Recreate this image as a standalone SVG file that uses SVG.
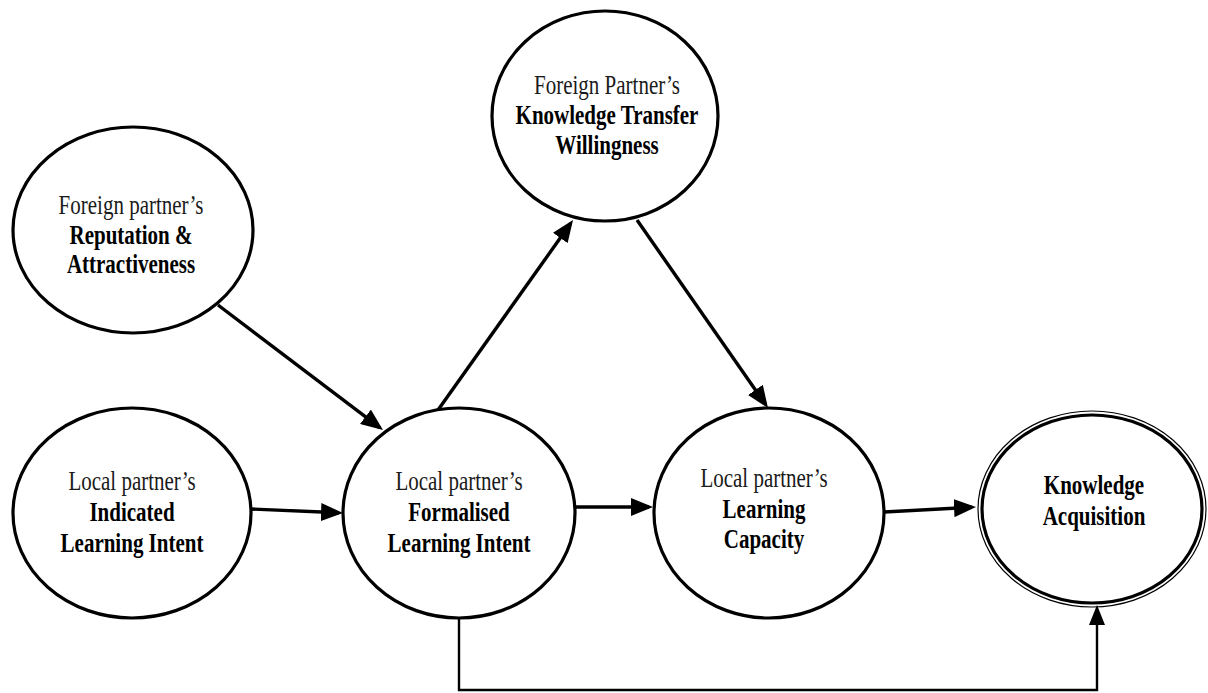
<svg xmlns="http://www.w3.org/2000/svg" width="1208" height="693" viewBox="0 0 1208 693">
<style>
.node{fill:#fff;stroke:#000;stroke-width:3.2}
.thin{fill:none;stroke:#000;stroke-width:1.2}
.t{font-family:"Liberation Serif","Times New Roman",serif;font-size:21px;text-anchor:middle;fill:#1a1a1a}
.b{font-weight:bold;fill:#000}
.c{fill:none;stroke:#000;stroke-width:3.4}
.c2{fill:none;stroke:#000;stroke-width:2.4}
</style>
<defs>
<marker id="ah" viewBox="0 0 22 18" refX="18" refY="9" markerWidth="22" markerHeight="18" markerUnits="userSpaceOnUse" orient="auto">
<path d="M0,0 L22,9 L0,18 z" fill="#000"/>
</marker>
<marker id="ah2" viewBox="0 0 20 16" refX="16" refY="8" markerWidth="20" markerHeight="16" markerUnits="userSpaceOnUse" orient="auto">
<path d="M0,0 L20,8 L0,16 z" fill="#000"/>
</marker>
</defs>
<rect width="1208" height="693" fill="#fff"/>
<g id="connectors">
<line class="c" x1="218" y1="305" x2="379.8" y2="427.6" marker-end="url(#ah)"/>
<line class="c" x1="251" y1="509" x2="339" y2="512.8" marker-end="url(#ah)"/>
<line class="c" x1="438" y1="410" x2="570.7" y2="223.3" marker-end="url(#ah)"/>
<line class="c" x1="637" y1="220" x2="765.7" y2="404.7" marker-end="url(#ah)"/>
<line class="c" x1="576" y1="507" x2="649" y2="507" marker-end="url(#ah)"/>
<line class="c" x1="884" y1="512" x2="972" y2="507.2" marker-end="url(#ah)"/>
<polyline class="c2" points="459,618 459,690 1097,690 1097,609" marker-end="url(#ah2)"/>
</g>
<g id="reputation">
<ellipse class="node" cx="133" cy="230" rx="120" ry="103"/>
<text class="t" transform="matrix(1 0 0 1.3 131 214)">Foreign partner’s</text>
<text class="t b" transform="matrix(1 0 0 1.3 131 244)">Reputation &amp;</text>
<text class="t b" transform="matrix(1 0 0 1.3 131 273)">Attractiveness</text>
</g>
<g id="willingness">
<ellipse class="node" cx="605" cy="116" rx="113" ry="105"/>
<text class="t" transform="matrix(1 0 0 1.3 607 94)">Foreign Partner’s</text>
<text class="t b" transform="matrix(1 0 0 1.3 607 124)">Knowledge Transfer</text>
<text class="t b" transform="matrix(1 0 0 1.3 607 154)">Willingness</text>
</g>
<g id="indicated">
<ellipse class="node" cx="132" cy="513" rx="119" ry="105"/>
<text class="t" transform="matrix(1 0 0 1.3 132 490)">Local partner’s</text>
<text class="t b" transform="matrix(1 0 0 1.3 132 521)">Indicated</text>
<text class="t b" transform="matrix(1 0 0 1.3 132 552)">Learning Intent</text>
</g>
<g id="formalised">
<ellipse class="node" cx="459" cy="513" rx="116" ry="105"/>
<text class="t" transform="matrix(1 0 0 1.3 459 490)">Local partner’s</text>
<text class="t b" transform="matrix(1 0 0 1.3 459 521)">Formalised</text>
<text class="t b" transform="matrix(1 0 0 1.3 459 552)">Learning Intent</text>
</g>
<g id="capacity">
<ellipse class="node" cx="769" cy="513" rx="115" ry="105"/>
<text class="t" transform="matrix(1 0 0 1.3 764 487)">Local partner’s</text>
<text class="t b" transform="matrix(1 0 0 1.3 764 518)">Learning</text>
<text class="t b" transform="matrix(1 0 0 1.3 764 548)">Capacity</text>
</g>
<g id="acquisition">
<ellipse class="thin" cx="1092" cy="509" rx="114" ry="98"/>
<ellipse class="node" cx="1092" cy="509" rx="110" ry="94"/>
<text class="t b" transform="matrix(1 0 0 1.3 1094 494)">Knowledge</text>
<text class="t b" transform="matrix(1 0 0 1.3 1094 525)">Acquisition</text>
</g>
</svg>
